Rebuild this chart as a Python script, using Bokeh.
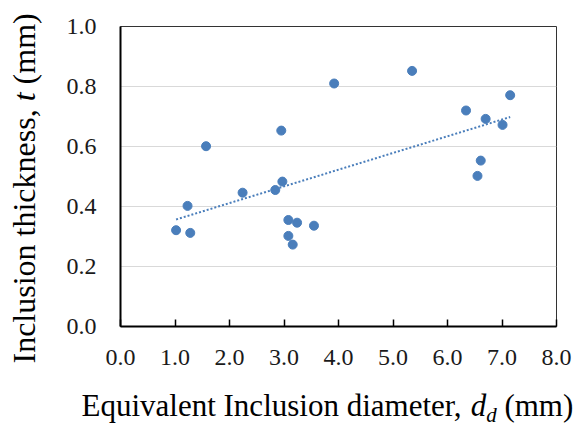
import numpy as np
from bokeh.plotting import figure
from bokeh.layouts import row, column
from bokeh.models import Range1d, FixedTicker, PrintfTickFormatter, ColumnDataSource
from bokeh.core.properties import value
from bokeh.embed import file_html
from bokeh.resources import INLINE

# Data
diameter = [1.02, 1.23, 1.28, 1.57, 2.24, 2.84, 2.95, 2.97, 3.08, 3.24, 3.08,
            3.16, 3.55, 3.92, 5.35, 6.34, 6.70, 7.01, 7.15, 6.61, 6.55]
thickness = [0.321, 0.402, 0.312, 0.601, 0.446, 0.455, 0.653, 0.483, 0.355, 0.346, 0.302,
             0.273, 0.336, 0.810, 0.852, 0.720, 0.692, 0.672, 0.771, 0.553, 0.502]
x_ticks = [0, 1, 2, 3, 4, 5, 6, 7, 8]
y_ticks = [0.0, 0.2, 0.4, 0.6, 0.8, 1.0]

BLUE = "#4a7ebb"
FONT = "Times New Roman"

# overall 586 x 427 : left strip (y title) + main plot + bottom strip (x title)
LW = 60
MW, MH = 526, 388
BH = 427 - MH
TOTAL_H = MH + BH

p = figure(width=MW, height=MH, output_backend="svg", toolbar_location=None,
           x_range=Range1d(0, 8), y_range=Range1d(0, 1),
           min_border_left=60, min_border_right=30, min_border_top=26, min_border_bottom=62)
p.background_fill_color = "white"
p.border_fill_color = "white"
p.outline_line_color = "#333333"
p.outline_line_width = 1

p.xgrid.visible = False
p.ygrid.ticker = FixedTicker(ticks=y_ticks)
p.ygrid.grid_line_color = "#d9d9d9"
p.ygrid.grid_line_width = 1

p.xaxis.ticker = FixedTicker(ticks=x_ticks)
p.xaxis.formatter = PrintfTickFormatter(format="%.1f")
p.yaxis.ticker = FixedTicker(ticks=y_ticks)
p.yaxis.formatter = PrintfTickFormatter(format="%.1f")
for ax in (p.xaxis, p.yaxis):
    ax.axis_line_color = "black"
    ax.axis_line_width = 2
    ax.minor_tick_line_color = None
    ax.major_label_text_font = FONT
    ax.major_label_text_font_size = "24px"
    ax.major_label_text_color = "#1a1a1a"
p.xaxis.major_tick_in = 7
p.xaxis.major_tick_out = 0
p.xaxis.major_tick_line_color = "black"
p.xaxis.major_tick_line_width = 1.5
p.xaxis.major_label_standoff = 23
p.yaxis.major_tick_line_color = None
p.yaxis.major_tick_in = 0
p.yaxis.major_tick_out = 0
p.yaxis.major_label_standoff = 24

# linear trendline fitted to the data
xs = np.array(diameter)
ys = np.array(thickness)
k, b = np.polyfit(xs, ys, 1)
tx = [xs.min(), xs.max()]
ty = [k * tx[0] + b, k * tx[1] + b]
p.line(tx, ty, line_color=BLUE, line_width=2, line_dash="2 2")

src = ColumnDataSource(dict(x=diameter, y=thickness))
p.scatter("x", "y", source=src, size=9, fill_color=BLUE, line_color=BLUE)


def text_strip(w, h):
    f = figure(width=w, height=h, output_backend="svg", toolbar_location=None,
               x_range=Range1d(0, w), y_range=Range1d(0, h),
               x_axis_type=None, y_axis_type=None,
               min_border_left=0, min_border_right=0, min_border_top=0, min_border_bottom=0)
    f.grid.visible = False
    f.outline_line_color = None
    f.background_fill_color = "white"
    f.border_fill_color = "white"
    return f


# x title strip
bx = text_strip(MW, BH)
fs = 31
x0 = 21.0
base = BH - 17.0
sub = 21
xt_pieces = [
    ("Equivalent Inclusion diameter,", "normal", fs, 0.0, 0),
    ("d", "italic", fs, 12.554 * fs, 0),
    ("d", "italic", sub, 12.554 * fs + 0.5 * fs, 9),
    ("(mm)", "normal", fs, 12.554 * fs + 0.5 * fs + 0.5 * sub + 0.25 * fs, 0),
]
for txt, style, size, off, drop in xt_pieces:
    bx.text(x=[x0 + off], y=[base - drop], text=[txt],
            text_font=value(FONT), text_font_style=style, text_font_size=f"{size}px",
            text_color="black", text_align="left", text_baseline="alphabetic")

# y title strip
ly = text_strip(LW, TOTAL_H)
fsy = 32
yb = 23.0
ystart = TOTAL_H - 363.0
yt_pieces = [
    ("Inclusion thickness,", "normal", 0.0),
    ("t", "italic", 8.194 * fsy),
    ("(mm)", "normal", 8.722 * fsy),
]
for txt, style, off in yt_pieces:
    ly.text(x=[yb], y=[ystart + off], text=[txt], angle=np.pi / 2,
            text_font=value(FONT), text_font_style=style, text_font_size=f"{fsy}px",
            text_color="black", text_align="left", text_baseline="alphabetic")

layout = row(ly, column(p, row(bx)))
open("out.html", "w").write(file_html(layout, INLINE))
